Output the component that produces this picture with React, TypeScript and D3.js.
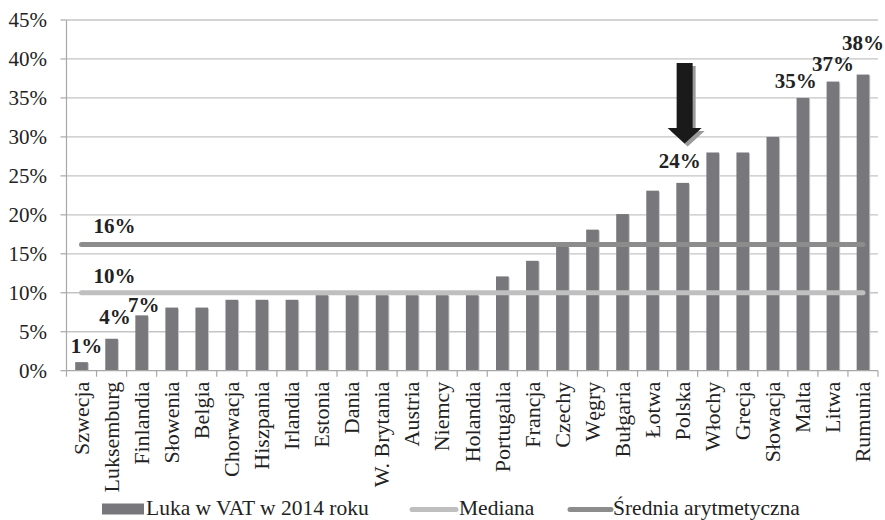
import React from "react";
import * as d3 from "d3";

const countries = [
  "Szwecja", "Luksemburg", "Finlandia", "Słowenia", "Belgia", "Chorwacja",
  "Hiszpania", "Irlandia", "Estonia", "Dania", "W. Brytania", "Austria",
  "Niemcy", "Holandia", "Portugalia", "Francja", "Czechy", "Węgry",
  "Bułgaria", "Łotwa", "Polska", "Włochy", "Grecja", "Słowacja", "Malta",
  "Litwa", "Rumunia",
];
const vatGap = [
  1.1, 4.1, 7.1, 8.1, 8.1, 9.1, 9.1, 9.1, 9.7, 9.7, 9.7, 9.7, 9.7, 9.7,
  12.1, 14.1, 15.9, 18.1, 20.1, 23.1, 24.1, 28, 28, 30, 35, 37.1, 38,
];
const median = 10;
const mean = 16.2;
const yTicks = [0, 5, 10, 15, 20, 25, 30, 35, 40, 45];

// labelled bars and hand-placed label nudges (dx, dy from bar top)
const labelled = ["Szwecja", "Luksemburg", "Finlandia", "Polska", "Malta", "Litwa", "Rumunia"];
const labelText = ["1%", "4%", "7%", "24%", "35%", "37%", "38%"];
const labelNudge = [[5, -9], [3.5, -15], [2, -3.5], [-3, -15], [-7, -10], [0, -11], [0, -25]];

const W = 885;
const H = 520;
const font = "Liberation Serif, Times New Roman, serif";

export default function App() {
  const left = 66.5;
  const right = 878;
  const y = d3.scaleLinear().domain([0, 45]).range([370.7, 20]);
  const x = d3
    .scaleBand<string>()
    .domain(countries)
    .range([left, right])
    .paddingInner(0.58)
    .paddingOuter(0.29);
  const step = x.step();
  const cx = (c: string) => (x(c) as number) + x.bandwidth() / 2;

  const lineX1 = cx(countries[0]);
  const lineX2 = cx(countries[countries.length - 1]);

  // arrow over Polska
  const ax = cx("Polska") + 2;
  const arrow = d3.path();
  arrow.moveTo(ax - 8, 63);
  arrow.lineTo(ax + 8, 63);
  arrow.lineTo(ax + 8, 128);
  arrow.lineTo(ax + 17, 128);
  arrow.lineTo(ax, 143.5);
  arrow.lineTo(ax - 17, 128);
  arrow.lineTo(ax - 8, 128);
  arrow.closePath();

  return (
    <svg
      width={W}
      height={H}
      style={{ position: "absolute", left: 0, top: 0, background: "#fff", fontFamily: font }}
    >
      {/* gridlines */}
      {yTicks.map((t) => (
        <g key={t}>
          {t > 0 && (
            <line x1={left} x2={right} y1={y(t)} y2={y(t)} stroke="#c4c4c4" strokeWidth={1.3} />
          )}
          <line x1={left - 6} x2={left} y1={y(t)} y2={y(t)} stroke="#a8a8a8" strokeWidth={1.2} />
          <text x={47} y={y(t)} dy="0.34em" textAnchor="end" fontSize={21} fill="#222">
            {t}%
          </text>
        </g>
      ))}
      <line x1={left} x2={left} y1={y(45)} y2={y(0)} stroke="#a8a8a8" strokeWidth={1.2} />

      {/* bars */}
      {countries.map((c, i) => (
        <g key={c}>
          <rect
            x={(x(c) as number) + 1}
            y={y(vatGap[i]) + 1}
            width={x.bandwidth()}
            height={y(0) - y(vatGap[i]) - 1}
            fill="#c8c8c8"
          />
          <rect
            x={x(c) as number}
            y={y(vatGap[i])}
            width={x.bandwidth()}
            height={y(0) - y(vatGap[i])}
            fill="#78787c"
          />
        </g>
      ))}

      {/* x axis */}
      <line x1={left} x2={right} y1={y(0)} y2={y(0)} stroke="#a8a8a8" strokeWidth={1.2} />
      {d3.range(countries.length + 1).map((i) => (
        <line
          key={i}
          x1={left + i * step}
          x2={left + i * step}
          y1={y(0)}
          y2={y(0) + 6}
          stroke="#a8a8a8"
          strokeWidth={1.2}
        />
      ))}
      {countries.map((c) => (
        <text
          key={c}
          transform={`translate(${cx(c)},${y(0) + 11}) rotate(-90)`}
          textAnchor="end"
          dy="0.33em"
          fontSize={22}
          fill="#222"
        >
          {c}
        </text>
      ))}

      {/* median and mean */}
      <line x1={lineX1} x2={lineX2} y1={y(median)} y2={y(median)} stroke="#bfbfbf" strokeWidth={5} strokeLinecap="round" />
      <line x1={lineX1} x2={lineX2} y1={y(mean)} y2={y(mean)} stroke="#8c8c8c" strokeWidth={5} strokeLinecap="round" />
      <text x={lineX1 + 12} y={y(mean) - 11} fontSize={21} fontWeight="bold" fill="#222">
        {Math.round(mean)}%
      </text>
      <text x={lineX1 + 12} y={y(median) - 10} fontSize={21} fontWeight="bold" fill="#222">
        {median}%
      </text>

      {/* value labels */}
      {labelled.map((c, k) => {
        const i = countries.indexOf(c);
        return (
          <text
            key={c}
            x={cx(c) + labelNudge[k][0]}
            y={y(vatGap[i]) + labelNudge[k][1]}
            textAnchor="middle"
            fontSize={21}
            fontWeight="bold"
            fill="#222"
          >
            {labelText[k]}
          </text>
        );
      })}

      {/* arrow */}
      <path d={arrow.toString()} fill="#9a9a9a" transform="translate(3,3)" />
      <path d={arrow.toString()} fill="#1a1a1a" />

      {/* legend */}
      <rect x={102} y={503.5} width={42} height={11} fill="#78787c" />
      <text x={146} y={515} fontSize={21.5} fill="#222">Luka w VAT w 2014 roku</text>
      <line x1={412} x2={456} y1={509.5} y2={509.5} stroke="#bfbfbf" strokeWidth={5} strokeLinecap="round" />
      <text x={459} y={515} fontSize={21.5} fill="#222">Mediana</text>
      <line x1={570} x2={611} y1={509.5} y2={509.5} stroke="#8c8c8c" strokeWidth={5} strokeLinecap="round" />
      <text x={613} y={515} fontSize={21.5} fill="#222">Średnia arytmetyczna</text>
    </svg>
  );
}
